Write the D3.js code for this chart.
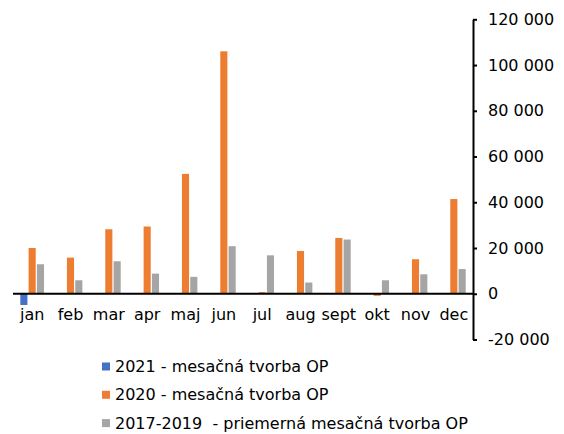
<!DOCTYPE html>
<html>
  <head>
    <meta charset="UTF-8" />
    <script src="https://cdnjs.cloudflare.com/ajax/libs/d3/7.8.5/d3.min.js"></script>
    <style>
      body {
        margin: 0;
        background: #fff;
      }
      text {
        font-family: "DejaVu Sans", Verdana, sans-serif;
        font-size: 16px;
        fill: #000;
      }
      .legend text {
        white-space: pre;
      }
    </style>
  </head>
  <body>
    <svg id="chart" width="564" height="434"></svg>
    <script>
      const months = ["jan", "feb", "mar", "apr", "maj", "jun", "jul", "aug", "sept", "okt", "nov", "dec"];
      const seriesNames = [
        "2021 - mesačná tvorba OP",
        "2020 - mesačná tvorba OP",
        "2017-2019  - priemerná mesačná tvorba OP"
      ];
      const values2021 = [-4900, null, null, null, null, null, null, null, null, null, null, null];
      const values2020 = [20000, 15800, 28200, 29400, 52400, 106000, 700, 18700, 24400, -900, 15100, 41400];
      const valuesAvg = [12900, 5900, 14200, 8800, 7400, 20800, 16800, 4900, 23700, 5900, 8500, 10800];
      const yTicks = [-20000, 0, 20000, 40000, 60000, 80000, 100000, 120000];
      const colors = ["#4472c4", "#ed7d31", "#a5a5a5"];

      const series = [values2021, values2020, valuesAvg];
      const svg = d3.select("#chart");

      const xScale = d3
          .scaleBand()
          .domain(months)
          .range([13, 473])
          .paddingInner(0.35)
          .paddingOuter(0.175),
        xSub = d3
          .scaleBand()
          .domain(d3.range(series.length))
          .range([0, xScale.bandwidth()]),
        yScale = d3
          .scaleLinear()
          .domain([-20000, 120000])
          .range([339.5, 19.3]);

      // bars
      series.forEach((vals, s) => {
        svg
          .append("g")
          .selectAll("rect")
          .data(months.map((m, i) => ({ m: m, v: vals[i] })).filter(d => d.v !== null))
          .enter()
          .append("rect")
          .attr("x", d => xScale(d.m) + xSub(s) + 0.6)
          .attr("width", xSub.bandwidth() - 1.2)
          .attr("y", d => yScale(Math.max(0, d.v)))
          .attr("height", d => Math.abs(yScale(d.v) - yScale(0)))
          .style("fill", colors[s]);
      });

      // zero line
      svg
        .append("line")
        .attr("x1", 13)
        .attr("x2", 473)
        .attr("y1", yScale(0))
        .attr("y2", yScale(0))
        .style("stroke", "#000")
        .style("stroke-width", 2);

      // category labels
      svg
        .append("g")
        .selectAll("text")
        .data(months)
        .enter()
        .append("text")
        .attr("x", d => xScale(d) + xScale.bandwidth() / 2)
        .attr("y", 320)
        .attr("text-anchor", "middle")
        .text(d => d);

      // right axis
      const yAxis = d3
        .axisRight(yScale)
        .tickValues(yTicks)
        .tickSizeInner(4)
        .tickSizeOuter(0)
        .tickPadding(11)
        .tickFormat(d => d3.format(",")(d).replace(/,/g, " ").replace("\u2212", "-"));

      const axisG = svg
        .append("g")
        .attr("transform", "translate(473,0)")
        .call(yAxis);
      axisG.select("path.domain").style("stroke", "#000").style("stroke-width", 2);
      axisG.selectAll(".tick line").style("stroke", "#000").style("stroke-width", 2);
      axisG
        .selectAll(".tick text")
        .style("font-family", '"DejaVu Sans", Verdana, sans-serif')
        .style("font-size", "16px")
        .style("fill", "#000");

      // legend
      const legend = svg
        .append("g")
        .attr("class", "legend")
        .selectAll("g")
        .data(seriesNames)
        .enter()
        .append("g")
        .attr("transform", (d, i) => "translate(102," + (366.5 + i * 28.3) + ")");
      legend
        .append("rect")
        .attr("x", 0)
        .attr("y", -4)
        .attr("width", 8)
        .attr("height", 8)
        .style("fill", (d, i) => colors[i]);
      legend
        .append("text")
        .attr("x", 13)
        .attr("dy", "0.35em")
        .text(d => d);
    </script>
  </body>
</html>
